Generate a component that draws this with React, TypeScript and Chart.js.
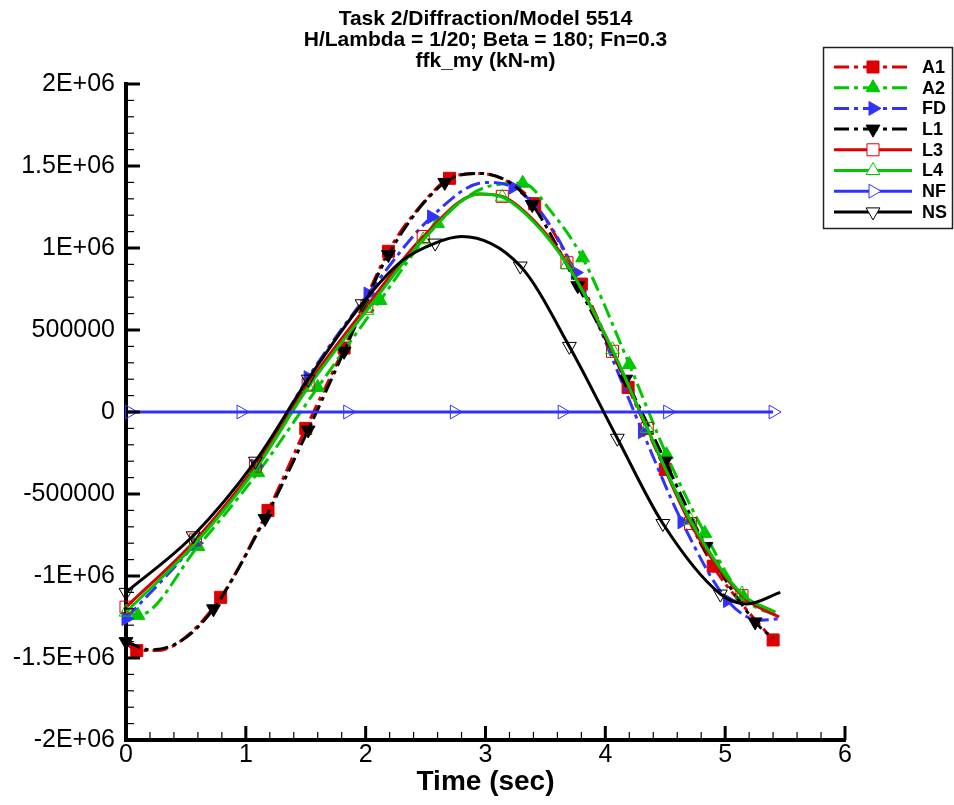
import React, { useEffect, useRef } from 'react';
import { Chart, registerables } from 'chart.js';
import { drawPoint } from 'chart.js/helpers';

Chart.register(...registerables);

const FONT = "'Liberation Sans', Arial, Helvetica, sans-serif";

// ---- data (time in sec, value in kN-m) ----
const a1Time = [0, 0.09, 0.25, 0.45, 0.79, 1.185, 1.5, 1.82, 2.19, 2.45, 2.7, 2.95, 3.2, 3.41, 3.8, 4.19, 4.5, 4.9, 5.15, 5.4];
const a1Val = [-1.41e6, -1.455e6, -1.455e6, -1.4e6, -1.13e6, -0.6e6, -0.1e6, 0.39e6, 0.98e6, 1.25e6, 1.425e6, 1.455e6, 1.4e6, 1.27e6, 0.78e6, 0.15e6, -0.35e6, -0.94e6, -1.18e6, -1.39e6];
const a1Mark = [0, 1, 0, 0, 1, 1, 1, 1, 1, 0, 1, 0, 0, 1, 1, 1, 1, 1, 0, 1];

const a2Time = [0, 0.1, 0.6, 1.1, 1.6, 2.12, 2.6, 3.0, 3.31, 3.55, 3.81, 4.2, 4.51, 4.83, 5.15, 5.45];
const a2Val = [-1.22e6, -1.24e6, -0.82e6, -0.37e6, 0.15e6, 0.68e6, 1.15e6, 1.37e6, 1.395e6, 1.22e6, 0.94e6, 0.29e6, -0.26e6, -0.74e6, -1.13e6, -1.25e6];
const a2Mark = [0, 1, 1, 1, 1, 1, 1, 0, 1, 0, 1, 1, 1, 1, 1, 0];

const fdTime = [0, 0.58, 1.08, 1.52, 2.02, 2.55, 3.0, 3.23, 3.5, 3.75, 4.31, 4.64, 5.02, 5.3, 5.45];
const fdVal = [-1.26e6, -0.8e6, -0.33e6, 0.21e6, 0.72e6, 1.19e6, 1.4e6, 1.37e6, 1.18e6, 0.85e6, -0.12e6, -0.67e6, -1.15e6, -1.27e6, -1.26e6];
const fdMark = [1, 1, 1, 1, 1, 1, 0, 1, 0, 1, 1, 1, 1, 0, 0];

const l1Time = [0, 0.2, 0.45, 0.73, 1.16, 1.52, 1.82, 2.19, 2.66, 2.95, 3.2, 3.39, 3.77, 4.17, 4.5, 4.84, 5.25, 5.4];
const l1Val = [-1.4e6, -1.45e6, -1.4e6, -1.2e6, -0.65e6, -0.11e6, 0.37e6, 0.96e6, 1.4e6, 1.455e6, 1.4e6, 1.265e6, 0.77e6, 0.2e6, -0.3e6, -0.82e6, -1.28e6, -1.38e6];
const l1Mark = [1, 0, 0, 1, 1, 1, 1, 1, 1, 0, 0, 1, 1, 1, 1, 1, 1, 0];

const l3Time = [0, 0.58, 1.08, 1.52, 2.01, 2.48, 2.95, 3.14, 3.4, 3.68, 4.06, 4.35, 4.71, 5.14, 5.45];
const l3Val = [-1.19e6, -0.78e6, -0.33e6, 0.17e6, 0.645e6, 1.07e6, 1.33e6, 1.315e6, 1.17e6, 0.91e6, 0.37e6, -0.1e6, -0.68e6, -1.12e6, -1.25e6];
const l3Mark = [1, 1, 1, 1, 1, 1, 0, 1, 0, 1, 1, 1, 1, 1, 0];

const l4Time = [0, 0.58, 1.08, 1.52, 2.01, 2.48, 2.95, 3.14, 3.4, 3.68, 4.06, 4.35, 4.71, 5.14, 5.42];
const l4Val = [-1.22e6, -0.8e6, -0.35e6, 0.15e6, 0.62e6, 1.05e6, 1.33e6, 1.31e6, 1.16e6, 0.9e6, 0.38e6, -0.1e6, -0.66e6, -1.11e6, -1.22e6];
const l4Mark = [1, 1, 1, 1, 1, 1, 0, 1, 0, 1, 1, 1, 1, 1, 0];

const nfTime = [0, 0.03, 0.96, 1.85, 2.74, 3.64, 4.52, 5.4];
const nfVal = [0, 0, 0, 0, 0, 0, 0, 0];
const nfMark = [0, 1, 1, 1, 1, 1, 1, 1];

const nsTime = [0, 0.56, 1.08, 1.52, 1.97, 2.3, 2.58, 2.8, 3.29, 3.7, 4.1, 4.48, 4.96, 5.18, 5.46];
const nsVal = [-1.1e6, -0.755e6, -0.3e6, 0.2e6, 0.66e6, 0.92e6, 1.03e6, 1.07e6, 0.89e6, 0.4e6, -0.16e6, -0.68e6, -1.11e6, -1.17e6, -1.1e6];
const nsMark = [1, 1, 1, 1, 1, 0, 1, 0, 1, 1, 1, 1, 1, 0, 0];

// ---- text ----
const titleLines = ['Task 2/Diffraction/Model 5514', 'H/Lambda = 1/20; Beta = 180; Fn=0.3', 'ffk_my (kN-m)'];
const xAxisTitle = 'Time (sec)';
const xTickValues = [0, 1, 2, 3, 4, 5, 6];
const xTickLabels = ['0', '1', '2', '3', '4', '5', '6'];
const yTickValues = [-2e6, -1.5e6, -1e6, -5e5, 0, 5e5, 1e6, 1.5e6, 2e6];
const yTickLabels = ['-2E+06', '-1.5E+06', '-1E+06', '-500000', '0', '500000', '1E+06', '1.5E+06', '2E+06'];

// ---- styles ----
const RED = '#dc0000';
const GREEN = '#00c800';
const BLUE = '#3232ff';
const BLACK = '#000000';
const DASHDOT = [15, 5, 4, 5];

const series = [
  { name: 'A1', time: a1Time, val: a1Val, mark: a1Mark, color: RED, dash: true, style: 'rect', rotation: 0, filled: true, radius: 8.5 },
  { name: 'A2', time: a2Time, val: a2Val, mark: a2Mark, color: GREEN, dash: true, style: 'triangle', rotation: 0, filled: true, radius: 8 },
  { name: 'FD', time: fdTime, val: fdVal, mark: fdMark, color: BLUE, dash: true, style: 'triangle', rotation: 90, filled: true, radius: 8 },
  { name: 'L1', time: l1Time, val: l1Val, mark: l1Mark, color: BLACK, dash: true, style: 'triangle', rotation: 180, filled: true, radius: 8 },
  { name: 'L3', time: l3Time, val: l3Val, mark: l3Mark, color: RED, dash: false, style: 'rect', rotation: 0, filled: false, radius: 8.5 },
  { name: 'L4', time: l4Time, val: l4Val, mark: l4Mark, color: GREEN, dash: false, style: 'triangle', rotation: 0, filled: false, radius: 8 },
  { name: 'NF', time: nfTime, val: nfVal, mark: nfMark, color: BLUE, dash: false, style: 'triangle', rotation: 90, filled: false, radius: 8 },
  { name: 'NS', time: nsTime, val: nsVal, mark: nsMark, color: BLACK, dash: false, style: 'triangle', rotation: 180, filled: false, radius: 8 },
];

const titlePlugin = {
  id: 'tecTitle',
  afterDraw(chart: any) {
    const { ctx, chartArea } = chart;
    const cx = (chartArea.left + chartArea.right) / 2;
    ctx.save();
    ctx.fillStyle = '#000';
    ctx.font = `bold 21px ${FONT}`;
    ctx.textAlign = 'center';
    ctx.textBaseline = 'alphabetic';
    const baselines = [25, 46, 67];
    titleLines.forEach((t, i) => ctx.fillText(t, cx, baselines[i]));
    ctx.restore();
  },
};

const innerTicksPlugin = {
  id: 'innerTicks',
  afterDraw(chart: any) {
    const { ctx, chartArea, scales } = chart;
    const xs = scales.x;
    const ys = scales.y;
    ctx.save();
    ctx.strokeStyle = '#000';
    for (let i = 0; i <= 30; i++) {
      const major = i % 5 === 0;
      const px = xs.getPixelForValue(i * 0.2);
      ctx.lineWidth = major ? 3 : 1.2;
      ctx.beginPath();
      ctx.moveTo(px, chartArea.bottom);
      ctx.lineTo(px, chartArea.bottom - (major ? 14 : 8));
      ctx.stroke();
    }
    for (let i = -20; i <= 20; i++) {
      const major = i % 5 === 0;
      const py = ys.getPixelForValue(i * 1e5);
      ctx.lineWidth = major ? 3 : 1.2;
      ctx.beginPath();
      ctx.moveTo(chartArea.left, py);
      ctx.lineTo(chartArea.left + (major ? 14 : 8), py);
      ctx.stroke();
    }
    ctx.restore();
  },
};

const legendPlugin = {
  id: 'tecLegend',
  afterDraw(chart: any) {
    const { ctx } = chart;
    ctx.save();
    ctx.strokeStyle = '#222';
    ctx.lineWidth = 1.5;
    ctx.strokeRect(823.5, 47.5, 129, 181);
    series.forEach((s, i) => {
      const y = 67 + i * 20.7;
      ctx.strokeStyle = s.color;
      ctx.lineWidth = 3;
      ctx.setLineDash(s.dash ? DASHDOT : []);
      ctx.beginPath();
      ctx.moveTo(834, y);
      ctx.lineTo(912, y);
      ctx.stroke();
      ctx.setLineDash([]);
      ctx.fillStyle = s.filled ? s.color : 'rgba(255,255,255,1)';
      ctx.strokeStyle = s.color;
      ctx.lineWidth = 1;
      drawPoint(ctx, { pointStyle: s.style, rotation: s.rotation, radius: s.radius, borderWidth: 1 } as any, 873, y);
      ctx.fillStyle = '#000';
      ctx.font = `bold 18px ${FONT}`;
      ctx.textAlign = 'left';
      ctx.textBaseline = 'middle';
      ctx.fillText(s.name, 922, y + 1);
    });
    ctx.restore();
  },
};

export default function App() {
  const canvasRef = useRef<HTMLCanvasElement | null>(null);

  useEffect(() => {
    if (!canvasRef.current) return;
    const datasets = series.map((s, idx) => ({
      label: s.name,
      data: s.time.map((t, i) => ({ x: t, y: s.val[i] })),
      borderColor: s.color,
      backgroundColor: s.color,
      borderWidth: 3,
      borderDash: s.dash ? DASHDOT : [],
      cubicInterpolationMode: 'monotone' as const,
      fill: false,
      pointStyle: s.style,
      pointRotation: s.rotation,
      pointRadius: s.mark.map((m) => (m ? s.radius : 0)),
      pointHoverRadius: s.mark.map((m) => (m ? s.radius : 0)),
      pointBackgroundColor: s.filled ? s.color : 'rgba(0,0,0,0)',
      pointBorderColor: s.color,
      pointBorderWidth: 1,
      clip: false as any,
      order: series.length - idx,
    }));

    const chart = new Chart(canvasRef.current, {
      type: 'line',
      data: { datasets },
      options: {
        animation: false,
        responsive: false,
        devicePixelRatio: 1,
        events: [],
        layout: { padding: { top: 84, right: 109, left: 0, bottom: 0 } },
        plugins: {
          legend: { display: false },
          title: { display: false },
          tooltip: { enabled: false },
        },
        scales: {
          x: {
            type: 'linear',
            min: 0,
            max: 6,
            afterBuildTicks: (s: any) => {
              s.ticks = xTickValues.map((v) => ({ value: v }));
            },
            afterFit: (s: any) => {
              s.height = 65;
            },
            ticks: {
              callback: (_v: any, i: number) => xTickLabels[i],
              font: { family: FONT, size: 25, lineHeight: 1 },
              color: '#000',
              padding: 3,
              maxRotation: 0,
              autoSkip: false,
            },
            grid: { display: false, drawTicks: false },
            border: { display: true, color: '#000', width: 4 },
            title: {
              display: true,
              text: xAxisTitle,
              font: { family: FONT, size: 28, weight: 'bold', lineHeight: 1 },
              color: '#000',
              padding: { top: 0, bottom: 9 },
            },
          },
          y: {
            type: 'linear',
            min: -2e6,
            max: 2e6,
            afterBuildTicks: (s: any) => {
              s.ticks = yTickValues.map((v) => ({ value: v }));
            },
            afterFit: (s: any) => {
              s.width = 126;
            },
            ticks: {
              callback: (_v: any, i: number) => yTickLabels[i],
              font: { family: FONT, size: 25, lineHeight: 1 },
              color: '#000',
              padding: 11,
              autoSkip: false,
            },
            grid: { display: false, drawTicks: false },
            border: { display: true, color: '#000', width: 4 },
          },
        },
      } as any,
      plugins: [innerTicksPlugin, titlePlugin, legendPlugin],
    });
    return () => chart.destroy();
  }, []);

  return (
    <div style={{ position: 'absolute', left: 0, top: 0, width: 954, height: 805, background: '#fff' }}>
      <canvas ref={canvasRef} width={954} height={805} style={{ display: 'block' }} />
    </div>
  );
}
